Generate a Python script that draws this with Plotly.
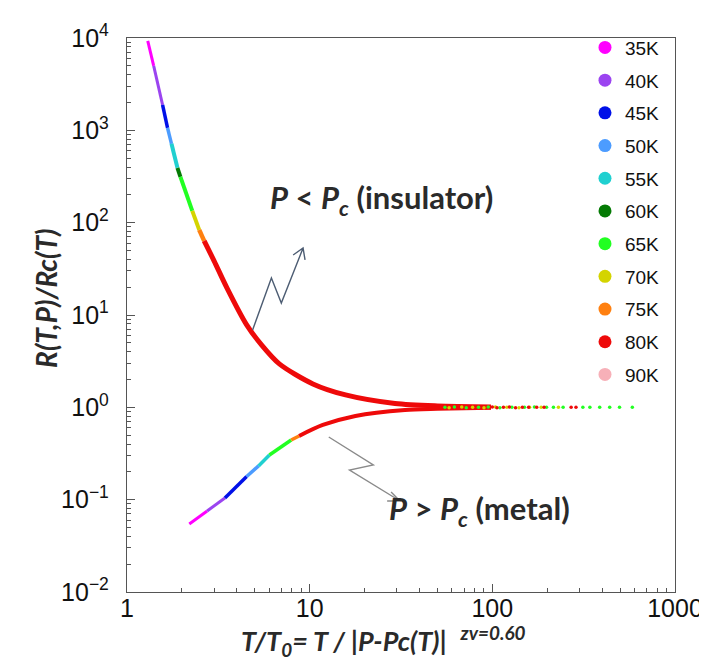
import plotly.graph_objects as go

# ---------------- data ----------------
temps = ["35K", "40K", "45K", "50K", "55K", "60K", "65K", "70K", "75K", "80K", "90K"]
colors = ["#ff00ff", "#9b44f0", "#0010e8", "#4c9cff", "#20d0d0", "#047a04",
          "#22ff22", "#d4d400", "#ff8010", "#ee0a0a", "#f7b0b8"]

# insulating branch (P < Pc), one segment per temperature
up35_x = [1.299, 1.400]; up35_y = [9327, 4998]
up40_x = [1.400, 1.566]; up40_y = [4998, 1889]
up45_x = [1.566, 1.667]; up45_y = [1889, 1064]
up50_x = [1.667, 1.752]; up50_y = [1064, 714]
up55_x = [1.752, 1.888]; up55_y = [714, 392.5]
up60_x = [1.888, 1.961]; up60_y = [392.5, 313.5]
up65_x = [1.961, 2.277]; up65_y = [313.5, 134.2]
up70_x = [2.277, 2.485]; up70_y = [134.2, 83.6]
up75_x = [2.485, 2.645]; up75_y = [83.6, 63.5]
up80_x = [2.645, 2.996, 3.523, 4.520, 5.449, 6.822, 10.42, 15.72, 29.33, 50.12, 98.3]
up80_y = [63.5, 38.6, 19.66, 7.81, 4.745, 2.953, 1.793, 1.362, 1.10, 1.036, 1.011]

# metallic branch (P > Pc)
lo35_x = [2.193, 2.746]; lo35_y = [0.0545, 0.0754]
lo40_x = [2.746, 3.436]; lo40_y = [0.0754, 0.1043]
lo45_x = [3.436, 4.52];  lo45_y = [0.1043, 0.178]
lo50_x = [4.52, 5.25];   lo50_y = [0.178, 0.232]
lo55_x = [5.25, 6.02];   lo55_y = [0.232, 0.305]
lo65_x = [6.02, 7.92];   lo65_y = [0.305, 0.443]
lo75_x = [7.92, 8.75];   lo75_y = [0.443, 0.490]
lo80_x = [8.75, 11.8, 17.8, 33.2, 50, 98.3]
lo80_y = [0.490, 0.644, 0.807, 0.937, 0.965, 0.99]

# scattered tail near R/Rc = 1
tail65_x = [55, 62, 72, 84, 95, 110, 128, 150, 170, 198, 216, 244, 313, 342, 387, 439, 497, 584]
tail65_y = [1.0, 1.01, 0.99, 1.0, 1.01, 0.99, 1.0, 1.0, 1.01, 1.0, 1.0, 1.0, 1.0, 1.0, 1.0, 1.0, 1.0, 1.0]
tail70_x = [58, 68, 78, 90, 104, 120, 140, 160, 185, 230]
tail70_y = [0.99, 1.01, 1.0, 0.99, 1.01, 1.0, 0.99, 1.0, 1.0, 1.0]
tail80_x = [100, 106, 115, 124, 134, 146, 158, 175, 192, 270, 287]
tail80_y = [1.01, 0.99, 1.0, 1.01, 0.99, 1.0, 1.0, 1.0, 1.0, 1.0, 1.0]

y_tickvals = [1e-2, 1e-1, 1, 10, 100, 1000, 1e4]
y_ticktext = ["10<sup>\u22122</sup>", "10<sup>\u22121</sup>", "10<sup>0</sup>", "10<sup>1</sup>",
              "10<sup>2</sup>", "10<sup>3</sup>", "10<sup>4</sup>"]
x_tickvals = [1, 10, 100, 1000]
x_ticktext = ["1", "10", "100", "1000"]

# minor tick positions (2..9 within each decade)
x_minor = [m * 10 ** k for k in range(0, 3) for m in range(2, 10)]
y_minor = [m * 10.0 ** k for k in range(-2, 4) for m in range(2, 10)]

# ---------------- figure ----------------
fig = go.Figure()

segments = [
    (up35_x, up35_y, 0, 3), (up40_x, up40_y, 1, 3), (up45_x, up45_y, 2, 3.5),
    (up50_x, up50_y, 3, 3.5), (up55_x, up55_y, 4, 4), (up60_x, up60_y, 5, 4),
    (up65_x, up65_y, 6, 4), (up70_x, up70_y, 7, 4), (up75_x, up75_y, 8, 4.5),
    (lo35_x, lo35_y, 0, 3), (lo40_x, lo40_y, 1, 3), (lo45_x, lo45_y, 2, 3.5),
    (lo50_x, lo50_y, 3, 3.5), (lo55_x, lo55_y, 4, 3.5), (lo65_x, lo65_y, 6, 3.5),
    (lo75_x, lo75_y, 8, 3.5),
    (up80_x, up80_y, 9, 5), (lo80_x, lo80_y, 9, 4),
]
for xs, ys, ci, w in segments:
    fig.add_trace(go.Scatter(x=xs, y=ys, mode="lines", showlegend=False,
                             line=dict(color=colors[ci], width=w, shape="spline", smoothing=0.8),
                             hoverinfo="skip"))

for xs, ys, ci in [(tail65_x, tail65_y, 6), (tail70_x, tail70_y, 7), (tail80_x, tail80_y, 9)]:
    fig.add_trace(go.Scatter(x=xs, y=ys, mode="markers", showlegend=False,
                             marker=dict(color=colors[ci], size=3.5), hoverinfo="skip"))

# legend entries
for t, c in zip(temps, colors):
    fig.add_trace(go.Scatter(x=[None], y=[None], mode="markers", name=t,
                             legendgroup=t, marker=dict(color=c, size=13)))

# ---------------- decorations ----------------
arrow_ins = "M 0.2292 0.4729 L 0.2635 0.5668 L 0.2816 0.5217 L 0.3213 0.6209 M 0.3032 0.6083 L 0.3213 0.6209 L 0.3249 0.5993"
arrow_met = "M 0.3682 0.2798 L 0.4495 0.2292 L 0.4061 0.2202 L 0.4982 0.1643 M 0.4819 0.1805 L 0.4982 0.1643 L 0.4747 0.1643"
fig.add_shape(type="path", path=arrow_ins, xref="paper", yref="paper",
              line=dict(color="#4d5d73", width=1.4))
fig.add_shape(type="path", path=arrow_met, xref="paper", yref="paper",
              line=dict(color="#8a8a8a", width=1.4))

ann_font = dict(family="Lato, 'Open Sans', sans-serif", size=31, color="#2a2a2a")
fig.add_annotation(text="<b><i>P</i> &lt; <i>P<sub>c</sub></i> (insulator)</b>",
                   xref="paper", yref="paper", x=(376 - 119) / 554, y=(584 - 191) / 554,
                   xanchor="center", yanchor="middle", showarrow=False, font=ann_font)
fig.add_annotation(text="<b><i>P</i> &gt; <i>P<sub>c</sub></i> (metal)</b>",
                   xref="paper", yref="paper", x=(475 - 119) / 554, y=(584 - 502) / 554,
                   xanchor="center", yanchor="middle", showarrow=False, font=ann_font)
fig.add_annotation(text="<b><i>T/T<sub>0</sub>= T / |P-Pc(T)|</i></b>  <sup><b><i>zv=0.60</i></b></sup>",
                   xref="paper", yref="paper", x=(378 - 119) / 554, y=(584 - 655) / 554,
                   xanchor="center", yanchor="bottom", showarrow=False,
                   font=dict(family="Lato, 'Open Sans', sans-serif", size=27, color="#2a2a2a"))
fig.add_annotation(text="<b><i>R(T,P)/Rc(T)</i></b>",
                   xref="paper", yref="paper", x=(37 - 119) / 554, y=(584 - 290) / 554,
                   xanchor="center", yanchor="middle", showarrow=False, textangle=-90,
                   font=dict(family="Lato, 'Open Sans', sans-serif", size=28, color="#2a2a2a"))

tick_font = dict(family="'Liberation Sans', Arial, sans-serif", size=25, color="#111111")

common_axis = dict(type="log", tickmode="array", ticks="inside", ticklen=8, tickcolor="#555555",
                   showline=True, linecolor="#555555", linewidth=1.3, mirror=True,
                   showgrid=False, zeroline=False, tickfont=tick_font)

fig.update_layout(
    width=707, height=659,
    margin=dict(l=119, r=34, t=30, b=75),
    paper_bgcolor="white", plot_bgcolor="white",
    legend=dict(x=(582 - 119) / 554, y=1.017, xanchor="left", yanchor="top",
                bgcolor="rgba(0,0,0,0)", tracegroupgap=5, maxheight=640,
                font=dict(family="'Liberation Sans', Arial, sans-serif", size=19, color="#111111"),
                itemsizing="trace"),
    xaxis=dict(common_axis, range=[0, 3], tickvals=x_tickvals, ticktext=x_ticktext,
               ticklabelstandoff=-6,
               minor=dict(tickmode="array", tickvals=x_minor, ticks="inside", ticklen=4,
                          tickcolor="#555555", showgrid=False)),
    yaxis=dict(common_axis, range=[-2, 4], tickvals=y_tickvals, ticktext=y_ticktext,
               ticklabelstandoff=12,
               minor=dict(tickmode="array", tickvals=y_minor, ticks="inside", ticklen=4,
                          tickcolor="#555555", showgrid=False)),
)

fig.write_html("out.html")
